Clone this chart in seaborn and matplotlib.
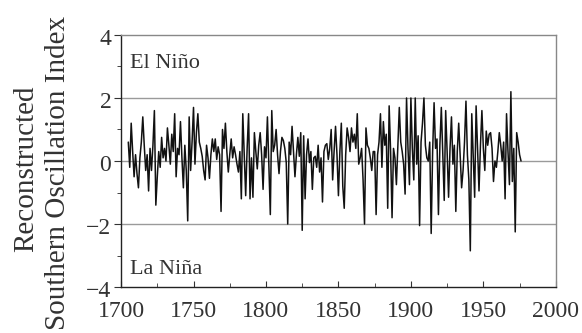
import numpy as np
import pandas as pd
import matplotlib
matplotlib.use("Agg")
import matplotlib.pyplot as plt
import matplotlib.transforms as mtransforms
from matplotlib.ticker import MultipleLocator
import seaborn as sns

# Reconstructed Southern Oscillation Index, one value per year
start_year = 1705
soi = [
    0.6, -0.2, 1.2, 0.3, -0.5, 0.2, -0.4, -0.85, 0.1, 0.6,          # 1705-1714
    1.4, 0.5, -0.3, 0.2, -0.95, 0.4, -0.3, 0.5, 1.6, -1.4,          # 1715-1724
    -0.5, 0.3, -0.2, 0.75, 0.1, 0.4, 0.0, 1.05, 0.5, -0.1,          # 1725-1734
    0.85, 0.3, 1.5, -0.5, 0.4, 0.2, 1.25, 0.1, -0.85, 0.5,          # 1735-1744
    -0.3, -1.9, 1.4, -0.3, 0.6, 1.7, -0.1, 0.9, 1.5, 0.6,           # 1745-1754
    0.4, 0.15, -0.3, -0.6, 0.5, 0.1, -0.55, 0.2, 0.7, 0.3,          # 1755-1764
    0.7, 0.05, 0.45, 0.2, -1.6, 1.0, 0.4, 1.2, 0.3, -0.35,          # 1765-1774
    0.2, 0.7, 0.1, 0.45, 0.2, -0.1, -0.35, 0.3, -1.2, 1.5,          # 1775-1784
    0.2, -1.1, 0.4, 1.5, -1.2, 0.1, -1.15, 0.9, 0.3, -0.25,         # 1785-1794
    0.5, 0.9, 0.2, -0.9, 0.45, 0.1, 1.4, -0.15, -1.7, 1.6,          # 1795-1804
    0.3, 0.5, 1.0, 0.2, -0.4, 0.3, 0.75, 0.65, 0.4, -0.05,          # 1805-1814
    -2.0, 0.6, 0.2, 1.1, 0.3, -0.5, 0.2, 0.75, 0.15, 0.9,           # 1815-1824
    -2.2, 0.8, -1.2, 0.2, 0.7, -0.05, 0.3, -0.9, 0.1, 0.15,         # 1825-1834
    -0.2, 0.5, -0.35, 0.1, -1.3, 0.3, 0.5, 0.55, 0.05, 0.4,         # 1835-1844
    1.0, -0.6, 0.3, 1.1, 0.2, -1.1, 0.3, 1.2, -0.8, -1.5,           # 1845-1854
    0.2, 1.05, 0.75, 0.3, 1.05, 0.6, 0.85, 0.4, 1.5, -0.1,          # 1855-1864
    0.1, 0.4, -0.6, -2.0, 1.05, 0.5, 0.4, 0.1, -0.3, 0.3,           # 1865-1874
    0.3, -1.7, 0.2, 0.6, 1.5, -0.2, 1.25, 0.5, 0.85, -1.5,          # 1875-1884
    1.75, 0.3, -1.8, 0.4, 0.1, -0.75, 0.5, 1.7, 0.6, 0.3,           # 1885-1894
    -0.1, -1.05, 2.0, 0.4, -0.75, 2.0, 0.4, -0.6, 2.0, -0.1,        # 1895-1904
    0.8, -2.05, 0.6, 1.2, 2.0, 0.5, 0.1, 0.0, 0.6, -2.3,            # 1905-1914
    0.3, 1.85, 0.4, 0.7, -1.7, 0.5, 1.7, 0.2, -1.25, 1.6,           # 1915-1924
    0.3, -1.15, 0.4, 1.4, -0.1, 0.5, -1.6, 0.3, 1.2, 0.2,           # 1925-1934
    -0.85, -0.3, 0.6, 1.9, 0.2, -0.6, -2.85, 1.5, 0.2, -1.15,       # 1935-1944
    1.75, 0.4, -0.95, 0.5, 1.6, 0.4, -0.3, 0.95, 0.5, 0.85,         # 1945-1954
    0.9, 0.4, -0.65, 0.0, -0.2, 0.3, 0.9, 0.5, 0.0, 0.6,            # 1955-1964
    -1.2, 1.5, 0.3, -0.75, 2.2, -0.65, 0.4, -2.25, 0.9, 0.6,        # 1965-1974
    0.2, 0.0,                                                       # 1975-1976
]
years = np.arange(start_year, start_year + len(soi))

x_ticks = [1700, 1750, 1800, 1850, 1900, 1950, 2000]
y_ticks = [-4, -2, 0, 2, 4]

df = pd.DataFrame({"year": years, "soi": soi})

sns.set_style("ticks")
plt.rcParams["font.family"] = ["Liberation Serif", "DejaVu Serif"]

W, H = 582, 333
fig = plt.figure(figsize=(W / 100, H / 100), dpi=100)
ax = fig.add_axes([0.208, 0.138, 0.747, 0.757])

# reference lines
for v in (-2, 0, 2):
    ax.axhline(v, color="#9a9a9a", lw=1.0, zorder=1)

sns.lineplot(data=df, x="year", y="soi", ax=ax, color="#111111", lw=1.1, zorder=3)

ax.set_xlim(1700, 2000)
ax.set_ylim(-4, 4)
ax.set_xticks(x_ticks)
ax.set_yticks(y_ticks)
ax.xaxis.set_minor_locator(MultipleLocator(25))
ax.yaxis.set_minor_locator(MultipleLocator(1))
ax.tick_params(axis="x", which="both", direction="in", labelsize=17,
               colors="#333333", length=4, pad=10)
ax.tick_params(axis="x", which="minor", length=3)
ax.tick_params(axis="y", which="major", direction="out", labelsize=17,
               colors="#333333", length=5, pad=2)
ax.tick_params(axis="y", which="minor", direction="out", length=3)

# y tick labels sit a little below their ticks
shift = mtransforms.ScaledTranslation(0, -2 / 100, fig.dpi_scale_trans)
for lab in ax.get_yticklabels():
    lab.set_transform(lab.get_transform() + shift)

for side in ("left", "bottom"):
    ax.spines[side].set_color("#222222")
    ax.spines[side].set_linewidth(1.0)
for side in ("top", "right"):
    ax.spines[side].set_visible(True)
    ax.spines[side].set_color("#888888")
    ax.spines[side].set_linewidth(1.0)

ax.set_xlabel("")
ax.set_ylabel("")

# two-line axis title
fig.text(26 / W, 1 - 169 / H, "Reconstructed", rotation=90, fontsize=21,
         color="#333333", ha="center", va="center")
fig.text(58 / W, 1 - 173 / H, "Southern Oscillation Index", rotation=90,
         fontsize=21, color="#333333", ha="center", va="center")

ax.text(1706, 3.1, "El Niño", fontsize=16, color="#333333", va="center")
ax.text(1706, -3.45, "La Niña", fontsize=16, color="#333333", va="center")

fig.savefig("out.png", dpi=100)
